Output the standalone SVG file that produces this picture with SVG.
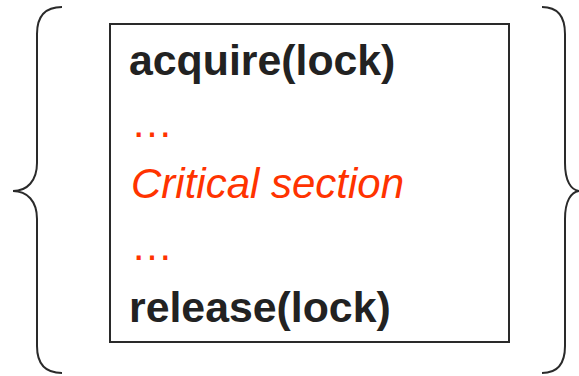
<svg xmlns="http://www.w3.org/2000/svg" width="579" height="376" viewBox="0 0 579 376">
<style>
.brace{fill:none;stroke:#2a2a2a;stroke-width:2}
.box{fill:#fff;stroke:#2a2a2a;stroke-width:2}
.code{font-family:"Liberation Sans",Arial,sans-serif;font-size:42.8px;font-weight:bold;fill:#222}
.red{font-family:"Liberation Sans",Arial,sans-serif;font-size:42px;fill:#ff3300}
</style>
<rect width="579" height="376" fill="#fff"/>
<g id="left-brace">
<path class="brace" d="M62,7 C45,7 37,16 37,34 L37,163 C37,181 27,191 13,191 C27,191 37,201 37,219 L37,346 C37,364 45,373 62,373"/>
</g>
<g id="right-brace">
<path class="brace" d="M542,7 C558,7 565,16 565,34 L565,163 C565,181 571,190 579,191 C571,192 565,201 565,219 L565,346 C565,364 558,373 542,373"/>
</g>
<g id="box">
<rect class="box" x="110" y="24" width="399" height="318"/>
<text class="code" x="129" y="75">acquire(lock)</text>
<text class="red" x="131" y="137">…</text>
<text class="red" x="131" y="198" font-style="italic" font-size="42.4px">Critical section</text>
<text class="red" x="131" y="260">…</text>
<text class="code" x="129" y="322">release(lock)</text>
</g>
</svg>
